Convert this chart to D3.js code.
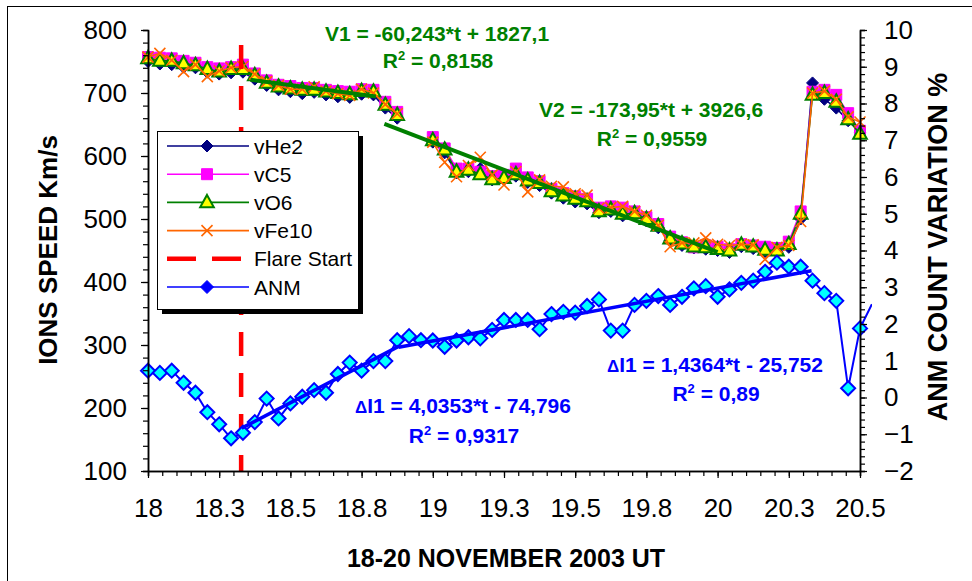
<!DOCTYPE html>
<html><head><meta charset="utf-8">
<script src="https://cdn.jsdelivr.net/npm/d3@7"></script>
<style>
html,body{margin:0;padding:0;background:#fff;}
svg{display:block;font-family:"Liberation Sans",Arial,sans-serif;}
</style></head><body>
<svg id="chart" width="972" height="581"></svg>
<script>
// ---------- data ----------
const startDay = 18;            // 18 Nov 2003, 00 UT; samples are hourly
const flareStart = 18.327;      // flare onset (fractional day)

const xTickValues = [18, 18.25, 18.5, 18.75, 19, 19.25, 19.5, 19.75, 20, 20.25, 20.5];
const xTickLabels = ["18", "18.3", "18.5", "18.8", "19", "19.3", "19.5", "19.8", "20", "20.3", "20.5"];
const speedTicks = [100, 200, 300, 400, 500, 600, 700, 800];
const anmTicks = [-2, -1, 0, 1, 2, 3, 4, 5, 6, 7, 8, 9, 10];

// ion speeds, km/s (hour 0 .. 60; null = no data)
const vHe2 = [750,746,745,741,740,733,730,732,733,722,712,705,702,699,701,697,694,693,698,697,
  676,660,null,null,622,605,573,575,580,562,563,568,558,553,541,533,527,524,510,512,
  505,506,497,486,466,458,454,452,450,447,456,453,448,447,455,500,716,690,676,656,638];
const vC5 = [757,756,755,751,748,741,739,741,745,731,720,713,711,708,708,705,703,702,706,705,
  686,670,null,null,630,612,580,580,575,568,570,580,566,560,548,541,536,532,518,520,
  518,512,503,492,472,463,455,458,456,452,460,458,456,454,464,512,702,705,697,668,640];
const vO6 = [755,751,751,747,744,738,734,738,738,728,716,710,707,705,705,702,700,698,703,702,
  681,665,null,null,625,610,575,578,571,563,565,571,561,557,544,537,532,528,512,515,
  508,509,500,489,469,461,456,455,452,450,459,456,451,450,460,508,697,700,686,658,635];
const vFe10 = [757,763,752,734,745,726,735,740,742,730,718,712,706,706,710,703,699,696,706,700,
  682,667,null,null,622,590,567,585,598,570,554,575,543,562,552,551,540,538,517,518,
  520,512,506,490,456,462,462,470,460,458,460,459,436,455,458,496,700,703,690,662,654];

// ANM neutron monitor count variation, % (hour 0 .. 61)
const anm = [0.73,0.67,0.73,0.40,0.13,-0.40,-0.73,-1.11,-0.96,-0.67,
  -0.03,-0.57,-0.16,0.02,0.20,0.13,0.64,0.95,0.73,0.99,
  0.99,1.56,1.67,1.56,1.55,1.38,1.55,1.64,1.61,1.84,
  2.11,2.11,2.11,1.86,2.27,2.33,2.31,2.49,2.67,1.82,
  1.82,2.52,2.63,2.76,2.52,2.74,2.97,3.03,2.74,2.94,
  3.12,3.18,3.42,3.67,3.56,3.56,3.18,2.84,2.63,0.25,1.88,2.54];

// linear fits: [slope, intercept, t from, t to]
const fitV1 = [-60.243, 1827.1, 18.36, 18.80];
const fitV2 = [-173.95, 3926.6, 18.83, 20.00];
const fitI1a = [4.0353, -74.796, 18.329, 18.88];
const fitI1b = [1.4364, -25.752, 18.88, 20.33];

// ---------- layout ----------
const svg = d3.select("#chart");
const plot = {left: 148, right: 860, top: 30, bottom: 471};
const FONT = '"Liberation Sans", Arial, sans-serif';

const x = d3.scaleLinear().domain([18, 20.5]).range([plot.left, plot.right]);
const yS = d3.scaleLinear().domain([100, 800]).range([plot.bottom, plot.top]);
const yA = d3.scaleLinear().domain([-2, 10]).range([plot.bottom, plot.top]);
const tOf = i => startDay + i / 24;

// chart frame
svg.append("rect").attr("x", 7.5).attr("y", 6.5).attr("width", 1000).attr("height", 1000)
  .attr("fill", "#fff").attr("stroke", "#000").attr("stroke-width", 1);

svg.append("defs").append("clipPath").attr("id", "clip")
  .append("rect").attr("x", plot.left - 12).attr("y", plot.top - 12)
  .attr("width", plot.right - plot.left + 24).attr("height", plot.bottom - plot.top + 24);

// ---------- marker shapes ----------
const mk = {
  diamond: r => `M0,${-r}L${r},0L0,${r}L${-r},0Z`,
  square: r => `M${-r},${-r}H${r}V${r}H${-r}Z`,
  triangle: r => `M0,${-r*1.15}L${r*1.05},${r*0.75}L${-r*1.05},${r*0.75}Z`,
  cross: r => `M${-r},${-r}L${r},${r}M${r},${-r}L${-r},${r}`
};

const speedSeries = [
  {name: "vHe2", data: vHe2, color: "#000080", shape: "diamond", r: 6, fill: "#000080", stroke: "#000080", sw: 1},
  {name: "vC5", data: vC5, color: "#ff00ff", shape: "square", r: 5.5, fill: "#ff00ff", stroke: "#ff00ff", sw: 1},
  {name: "vO6", data: vO6, color: "#008000", shape: "triangle", r: 6.5, fill: "#ffff00", stroke: "#008000", sw: 2},
  {name: "vFe10", data: vFe10, color: "#ff6600", shape: "cross", r: 5.5, fill: "none", stroke: "#ff6600", sw: 1.6}
];

const gData = svg.append("g").attr("clip-path", "url(#clip)");

speedSeries.forEach(s => {
  const pts = s.data.map((v, i) => ({t: tOf(i), v}));
  const line = d3.line().defined(d => d.v != null).x(d => x(d.t)).y(d => yS(d.v));
  gData.append("path").datum(pts).attr("d", line)
    .attr("fill", "none").attr("stroke", s.color).attr("stroke-width", 1.6);
  gData.append("g").selectAll("path").data(pts.filter(d => d.v != null)).join("path")
    .attr("transform", d => `translate(${x(d.t)},${yS(d.v)})`)
    .attr("d", mk[s.shape](s.r))
    .attr("fill", s.fill).attr("stroke", s.stroke).attr("stroke-width", s.sw)
    .attr("stroke-linejoin", "miter");
});

// flare start marker
gData.append("line")
  .attr("x1", x(flareStart)).attr("x2", x(flareStart))
  .attr("y1", yS(800)).attr("y2", yS(100))
  .attr("stroke", "#ff0000").attr("stroke-width", 4.5)
  .attr("stroke-dasharray", "24,17").attr("stroke-dashoffset", -15);

// ANM series
const anmPts = anm.map((v, i) => ({t: tOf(i), v}));
gData.append("path").datum(anmPts)
  .attr("d", d3.line().x(d => x(d.t)).y(d => yA(d.v)))
  .attr("fill", "none").attr("stroke", "#0000ff").attr("stroke-width", 2);
gData.append("g").selectAll("path").data(anmPts.filter(d => d.t <= 20.5 + 1e-9)).join("path")
  .attr("transform", d => `translate(${x(d.t)},${yA(d.v)})`)
  .attr("d", mk.diamond(7))
  .attr("fill", "#00ffff").attr("stroke", "#0000ff").attr("stroke-width", 2);

// fitted trend lines
function fitLine(fit, yScale, color, width) {
  const [a, b, t0, t1] = fit;
  svg.append("line")
    .attr("x1", x(t0)).attr("y1", yScale(a * t0 + b))
    .attr("x2", x(t1)).attr("y2", yScale(a * t1 + b))
    .attr("stroke", color).attr("stroke-width", width).attr("stroke-linecap", "butt");
}
fitLine(fitV1, yS, "#008000", 4);
fitLine(fitV2, yS, "#008000", 4);
fitLine(fitI1a, yA, "#0000ff", 3.5);
fitLine(fitI1b, yA, "#0000ff", 3.5);

// fit equations
function eqText(cx, baseline, color, parts) {
  const t = svg.append("text").attr("x", cx).attr("y", baseline)
    .attr("text-anchor", "middle").attr("fill", color)
    .attr("font-weight", "bold").attr("font-size", 21).attr("font-family", FONT);
  parts.forEach(p => {
    const s = t.append("tspan").text(p.s);
    if (p.sup) s.attr("font-size", 13).attr("dy", -8);
    if (p.after) s.attr("dy", 8);
    if (p.small) s.attr("font-size", 17);
  });
}
const green = "#008000", blue = "#0000ff";
eqText(437, 41, green, [{s: "V1 = -60,243*t + 1827,1"}]);
eqText(438, 68, green, [{s: "R"}, {s: "2", sup: true}, {s: " = 0,8158", after: true}]);
eqText(651, 117, green, [{s: "V2 = -173,95*t + 3926,6"}]);
eqText(652, 146, green, [{s: "R"}, {s: "2", sup: true}, {s: " = 0,9559", after: true}]);
eqText(463, 413, blue, [{s: "\u0394", small: true}, {s: "I1 = 4,0353*t - 74,796"}]);
eqText(464, 443, blue, [{s: "R"}, {s: "2", sup: true}, {s: " = 0,9317", after: true}]);
eqText(715, 372, blue, [{s: "\u0394", small: true}, {s: "I1 = 1,4364*t - 25,752"}]);
eqText(716, 401, blue, [{s: "R"}, {s: "2", sup: true}, {s: " = 0,89", after: true}]);

// ---------- axes ----------
function styleAxis(g) {
  g.selectAll("path.domain").attr("stroke", "#000").attr("stroke-width", 1.5);
  g.selectAll(".tick line").attr("stroke", "#000").attr("stroke-width", 1.2);
  g.selectAll("text").attr("font-family", FONT).attr("font-size", 26).attr("fill", "#000");
}
// bottom
svg.append("g").attr("transform", `translate(0,${plot.bottom})`)
  .call(d3.axisBottom(x).tickValues(d3.range(18, 20.5001, 0.05)).tickSize(5).tickFormat(""))
  .call(styleAxis);
svg.append("g").attr("transform", `translate(0,${plot.bottom})`)
  .call(d3.axisBottom(x).tickValues(xTickValues).tickSize(7).tickPadding(21)
    .tickFormat((d, i) => xTickLabels[i]).tickSizeOuter(0))
  .call(styleAxis);
// left
svg.append("g").attr("transform", `translate(${plot.left},0)`)
  .call(d3.axisLeft(yS).tickValues(d3.range(100, 800.1, 20)).tickSize(5).tickFormat(""))
  .call(styleAxis);
svg.append("g").attr("transform", `translate(${plot.left},0)`)
  .call(d3.axisLeft(yS).tickValues(speedTicks).tickSize(7).tickPadding(14).tickSizeOuter(0))
  .call(styleAxis);
// right
svg.append("g").attr("transform", `translate(${plot.right},0)`)
  .call(d3.axisRight(yA).tickValues(d3.range(-2, 10.01, 0.2)).tickSize(5).tickFormat(""))
  .call(styleAxis);
svg.append("g").attr("transform", `translate(${plot.right},0)`)
  .call(d3.axisRight(yA).tickValues(anmTicks).tickSize(7).tickPadding(17).tickSizeOuter(0))
  .call(styleAxis);

// axis titles
svg.append("text").attr("transform", "translate(57,250) rotate(-90)")
  .attr("text-anchor", "middle").attr("font-weight", "bold").attr("font-size", 26)
  .attr("font-family", FONT).text("IONS SPEED Km/s");
svg.append("text").attr("transform", "translate(947,247) rotate(-90)")
  .attr("text-anchor", "middle").attr("font-weight", "bold").attr("font-size", 27)
  .attr("font-family", FONT).text("ANM COUNT VARIATION %");
svg.append("text").attr("x", 506).attr("y", 567)
  .attr("text-anchor", "middle").attr("font-weight", "bold").attr("font-size", 25)
  .attr("font-family", FONT).text("18-20 NOVEMBER 2003 UT");

// ---------- legend ----------
const lg = svg.append("g").attr("transform", "translate(157,131)");
lg.append("rect").attr("x", 5).attr("y", 5).attr("width", 201).attr("height", 178).attr("fill", "#000");
lg.append("rect").attr("x", 0.5).attr("y", 0.5).attr("width", 201).attr("height", 178)
  .attr("fill", "#fff").attr("stroke", "#000").attr("stroke-width", 1);
const legendItems = [
  ...speedSeries.map(s => ({name: s.name, color: s.color, shape: s.shape, r: s.r, fill: s.fill, stroke: s.stroke, sw: s.sw})),
  {name: "Flare Start", color: "#ff0000", dashed: true},
  {name: "ANM", color: "#0000ff", shape: "diamond", r: 6.5, fill: "#0000ff", stroke: "#0000ff", sw: 1}
];
legendItems.forEach((it, i) => {
  const cy = 15 + i * 28.2;
  const row = lg.append("g").attr("transform", `translate(0,${cy})`);
  if (it.dashed) {
    row.append("line").attr("x1", 10).attr("x2", 92).attr("stroke", it.color)
      .attr("stroke-width", 4.5).attr("stroke-dasharray", "29,16");
  } else {
    row.append("line").attr("x1", 10).attr("x2", 92).attr("stroke", it.color).attr("stroke-width", 1.6);
    row.append("path").attr("transform", "translate(50,0)").attr("d", mk[it.shape](it.r))
      .attr("fill", it.fill).attr("stroke", it.stroke).attr("stroke-width", it.sw);
  }
  row.append("text").attr("x", 97).attr("y", 7.5).attr("font-size", 21)
    .attr("font-family", FONT).attr("fill", "#000").text(it.name);
});
</script>
</body></html>
